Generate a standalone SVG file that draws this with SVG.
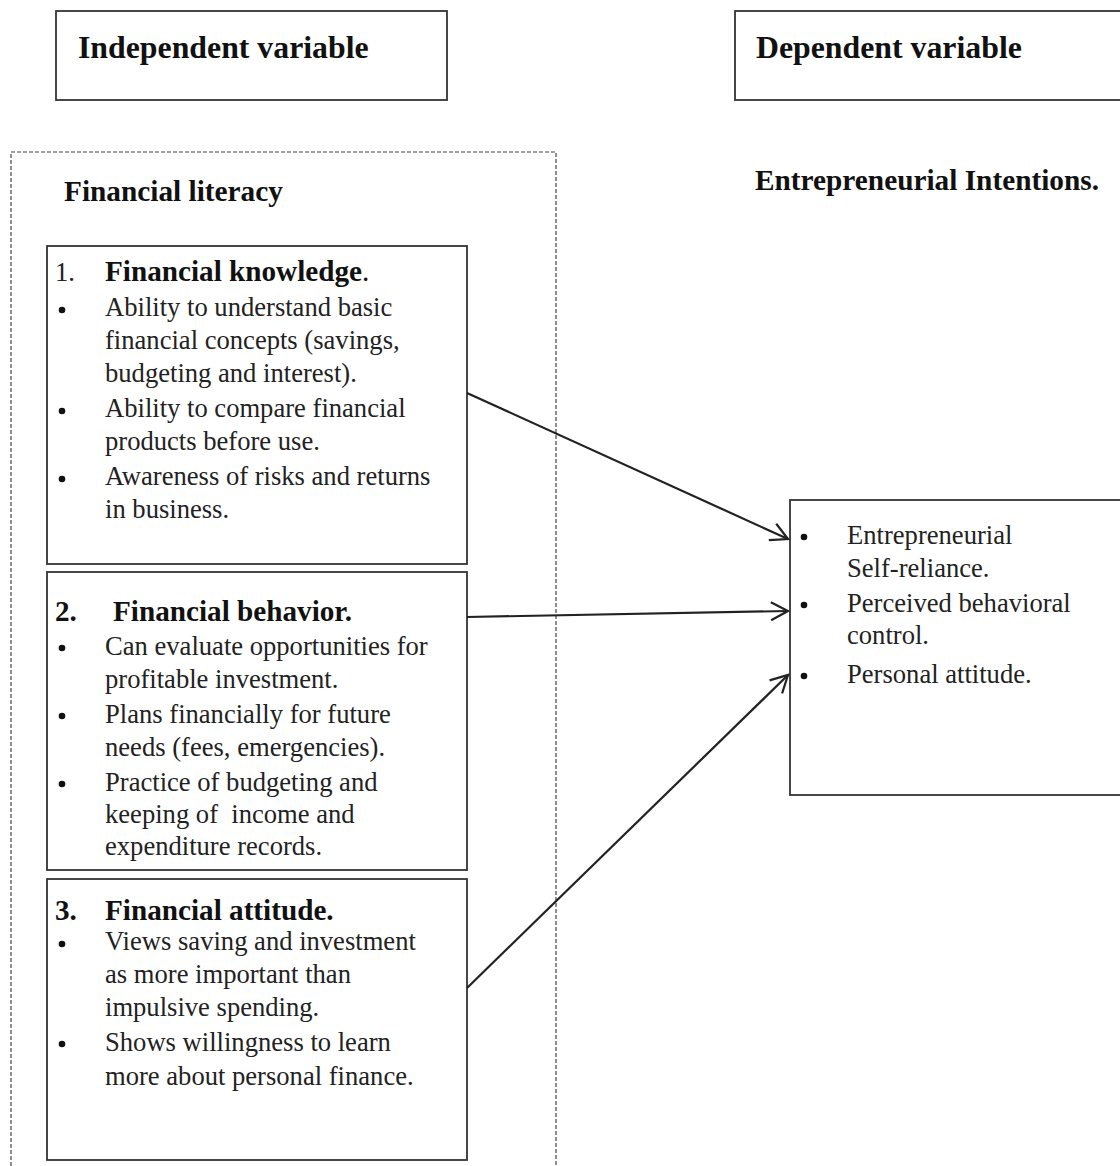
<svg xmlns="http://www.w3.org/2000/svg" width="1120" height="1166" viewBox="0 0 1120 1166">
<defs>
<style>
.box{fill:none;stroke:#333;stroke-width:1.8}
.dash{fill:none;stroke:#444;stroke-width:1.2;stroke-dasharray:4 2}
.h{font-family:"Liberation Serif","Times New Roman",serif;font-weight:bold;font-size:31.8px;fill:#111}
.sh{font-family:"Liberation Serif","Times New Roman",serif;font-weight:bold;font-size:29.3px;fill:#111}
.t{font-family:"Liberation Serif","Times New Roman",serif;font-weight:bold;font-size:29.2px;fill:#111}
.b{font-family:"Liberation Serif","Times New Roman",serif;font-size:26.6px;fill:#222}
.conn{stroke:#222;stroke-width:2.2;fill:none}
</style>
<marker id="arr" markerUnits="userSpaceOnUse" markerWidth="24" markerHeight="24" refX="19" refY="11" orient="auto">
<path d="M2,2 L19,11 L2,20" fill="none" stroke="#222" stroke-width="2.2"/>
</marker>
</defs>
<rect width="1120" height="1166" fill="#fff"/>

<g id="independent-variable">
<rect class="box" x="56" y="11" width="391" height="89"/>
<text class="h" x="78" y="58">Independent variable</text>
</g>

<g id="dependent-variable">
<rect class="box" x="735" y="11" width="400" height="89"/>
<text class="h" x="756" y="58">Dependent variable</text>
</g>

<g id="financial-literacy">
<rect class="dash" x="11" y="152" width="545" height="1030"/>
<text class="sh" x="64" y="201">Financial literacy</text>
</g>

<g id="financial-knowledge">
<rect class="box" x="47" y="246" width="420" height="318"/>
<text class="b" x="55" y="281">1.</text>
<text class="t" x="105" y="281">Financial knowledge<tspan font-weight="normal">.</tspan></text>
<circle cx="62" cy="310" r="3.3" fill="#111"/>
<circle cx="62" cy="411" r="3.3" fill="#111"/>
<circle cx="62" cy="479" r="3.3" fill="#111"/>
<text class="b" x="105" y="316">Ability to understand basic</text>
<text class="b" x="105" y="349">financial concepts (savings,</text>
<text class="b" x="105" y="382">budgeting and interest).</text>
<text class="b" x="105" y="417">Ability to compare financial</text>
<text class="b" x="105" y="450">products before use.</text>
<text class="b" x="105" y="485">Awareness of risks and returns</text>
<text class="b" x="105" y="518">in business.</text>
</g>

<g id="financial-behavior">
<rect class="box" x="47" y="572" width="420" height="298"/>
<text class="t" x="55" y="621">2.</text>
<text class="t" x="113" y="621">Financial behavior.</text>
<circle cx="62" cy="648" r="3.3" fill="#111"/>
<circle cx="62" cy="716" r="3.3" fill="#111"/>
<circle cx="62" cy="784" r="3.3" fill="#111"/>
<text class="b" x="105" y="655">Can evaluate opportunities for</text>
<text class="b" x="105" y="688">profitable investment.</text>
<text class="b" x="105" y="723">Plans financially for future</text>
<text class="b" x="105" y="756">needs (fees, emergencies).</text>
<text class="b" x="105" y="791">Practice of budgeting and</text>
<text class="b" x="105" y="823" xml:space="preserve">keeping of  income and</text>
<text class="b" x="105" y="855">expenditure records.</text>
</g>

<g id="financial-attitude">
<rect class="box" x="47" y="879" width="420" height="281"/>
<text class="t" x="55" y="920">3.</text>
<text class="t" x="105" y="920">Financial attitude.</text>
<circle cx="62" cy="944" r="3.3" fill="#111"/>
<circle cx="62" cy="1044" r="3.3" fill="#111"/>
<text class="b" x="105" y="950">Views saving and investment</text>
<text class="b" x="105" y="983">as more important than</text>
<text class="b" x="105" y="1016">impulsive spending.</text>
<text class="b" x="105" y="1051">Shows willingness to learn</text>
<text class="b" x="105" y="1085">more about personal finance.</text>
</g>

<g id="entrepreneurial-intentions">
<text class="sh" x="755" y="190">Entrepreneurial Intentions.</text>
<rect class="box" x="790" y="500" width="345" height="295"/>
<circle cx="804" cy="537" r="3.3" fill="#111"/>
<circle cx="804" cy="605" r="3.3" fill="#111"/>
<circle cx="804" cy="676" r="3.3" fill="#111"/>
<text class="b" x="847" y="544">Entrepreneurial</text>
<text class="b" x="847" y="577">Self-reliance.</text>
<text class="b" x="847" y="612">Perceived behavioral</text>
<text class="b" x="847" y="644">control.</text>
<text class="b" x="847" y="683">Personal attitude.</text>
</g>

<g id="connectors">
<line class="conn" x1="467" y1="393" x2="788" y2="539" marker-end="url(#arr)"/>
<line class="conn" x1="467" y1="617" x2="788" y2="611" marker-end="url(#arr)"/>
<line class="conn" x1="467" y1="988" x2="788" y2="675" marker-end="url(#arr)"/>
</g>
</svg>
